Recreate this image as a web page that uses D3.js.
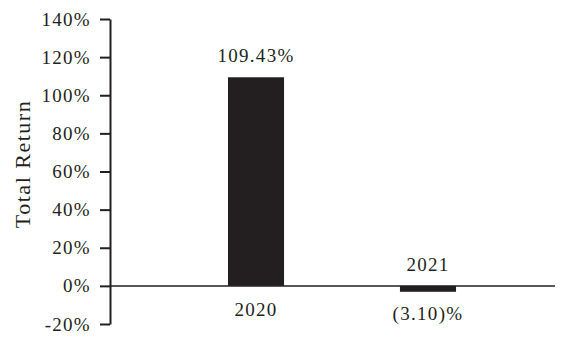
<!DOCTYPE html>
<html>
<head>
<meta charset="utf-8">
<script src="https://cdn.jsdelivr.net/npm/d3@7"></script>
<style>
  body { margin: 0; background: #fff; }
  text { font-family: "Liberation Serif", "Times New Roman", serif; fill: #231f20; }
</style>
</head>
<body>
<div class="chart_area"></div>
<script>
// chart values
var years = ["2020", "2021"];
var returns = [109.43, -3.10];
var yTicks = [-20, 0, 20, 40, 60, 80, 100, 120, 140];

var width = 564, height = 342;
var ink = "#231f20";

var svg = d3.select(".chart_area").append("svg")
   .attr("width", width)
   .attr("height", height);

// scales
var x = d3.scaleBand()
  .domain(years)
  .range([110, 574])
  .paddingInner(0.674)
  .paddingOuter(0.686);

var y = d3.scaleLinear()
  .domain([-20, 140])
  .range([324, 19]);

// bars
svg.selectAll("rect.bar")
  .data(returns)
  .enter().append("rect")
    .attr("class", "bar")
    .attr("x", (d, i) => x(years[i]))
    .attr("y", d => y(Math.max(0, d)))
    .attr("width", x.bandwidth())
    .attr("height", d => Math.abs(y(d) - y(0)))
    .attr("fill", ink);

// y axis
var yAxis = svg.append("g")
  .attr("transform", "translate(110,0)")
  .call(d3.axisLeft(y).tickValues(yTicks).tickSize(10).tickSizeOuter(0).tickPadding(9)
    .tickFormat(d => d + "%"));
yAxis.selectAll("text")
  .style("font-size", "19px")
  .style("letter-spacing", "1.3px")
  .attr("font-family", null);
yAxis.selectAll("line").attr("stroke", ink).attr("stroke-width", 2);
yAxis.select(".domain").attr("stroke", ink).attr("stroke-width", 2);

// zero line
svg.append("line")
  .attr("x1", 110).attr("x2", 555)
  .attr("y1", y(0)).attr("y2", y(0))
  .attr("stroke", ink)
  .attr("stroke-width", 1.5);

// value labels
function fmt(v) {
  return v >= 0 ? v.toFixed(2) + "%" : "(" + Math.abs(v).toFixed(2) + ")%";
}

svg.selectAll("text.val")
  .data(returns)
  .enter().append("text")
    .attr("class", "val")
    .attr("x", (d, i) => x(years[i]) + x.bandwidth() / 2)
    .attr("y", d => d >= 0 ? y(d) - 15 : y(d) + 28)
    .attr("text-anchor", "middle")
    .style("font-size", "19px")
    .style("letter-spacing", "1.3px")
    .text(d => fmt(d));

// category labels, on the side of the axis away from the bar
svg.selectAll("text.cat")
  .data(returns)
  .enter().append("text")
    .attr("class", "cat")
    .attr("x", (d, i) => x(years[i]) + x.bandwidth() / 2)
    .attr("y", d => d >= 0 ? y(0) + 30 : y(0) - 15)
    .attr("text-anchor", "middle")
    .style("font-size", "19px")
    .style("letter-spacing", "1.3px")
    .text((d, i) => years[i]);

// axis title
svg.append("text")
  .attr("transform", "translate(30,164) rotate(-90)")
  .attr("text-anchor", "middle")
  .style("font-size", "22px")
  .style("letter-spacing", "1.5px")
  .text("Total Return");
</script>
</body>
</html>
